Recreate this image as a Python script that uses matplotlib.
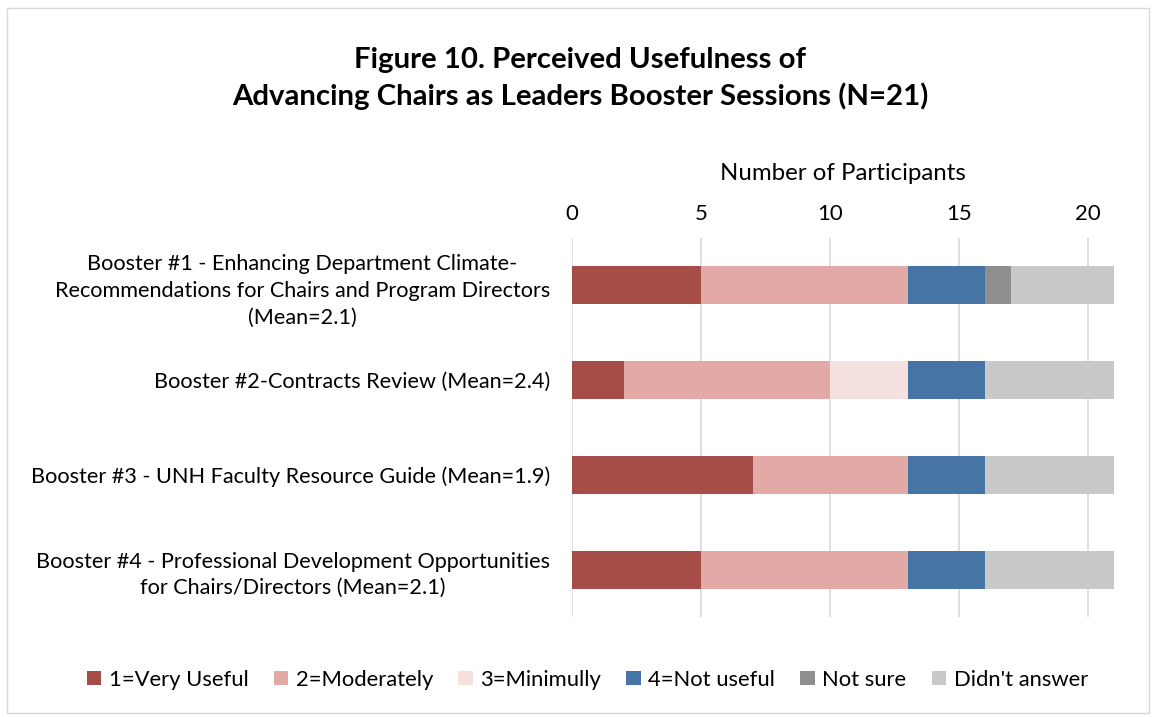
#!/usr/bin/env python3
"""Stacked horizontal bar chart: perceived usefulness of booster sessions."""

import matplotlib
matplotlib.use("Agg")
import matplotlib.pyplot as plt
from matplotlib.patches import Rectangle
import numpy as np

plt.rcParams['font.family'] = ['Lato', 'DejaVu Sans']

sessions = [
    "Booster #1 - Enhancing Department Climate-\nRecommendations for Chairs and Program Directors\n(Mean=2.1)",
    "Booster #2-Contracts Review (Mean=2.4)",
    "Booster #3 - UNH Faculty Resource Guide (Mean=1.9)",
    "Booster #4 - Professional Development Opportunities\nfor Chairs/Directors (Mean=2.1)",
]
categories = ["1=Very Useful", "2=Moderately", "3=Minimully", "4=Not useful",
              "Not sure", "Didn't answer"]
very_useful = [5, 2, 7, 5]
moderately = [8, 8, 6, 8]
minimally = [0, 3, 0, 0]
not_useful = [3, 3, 3, 3]
not_sure = [1, 0, 0, 0]
no_answer = [4, 5, 5, 5]
colors = ["#A64D47", "#E2A9A7", "#F4E1E0", "#4674A4", "#8F8F8F", "#C9C9C9"]
xticks = [0, 5, 10, 15, 20]

series = [very_useful, moderately, minimally, not_useful, not_sure, no_answer]

fig = plt.figure(figsize=(11.54, 7.17), dpi=100)
ax = fig.add_axes([572 / 1154, 1 - 617 / 717, 542 / 1154, 379 / 717])

y = np.arange(len(sessions))
left = np.zeros(len(sessions))
for vals, label, color in zip(series, categories, colors):
    ax.barh(y, vals, left=left, height=0.4, color=color, label=label, zorder=3)
    left += np.array(vals)

ax.set_xlim(0, 21)
ax.set_ylim(len(sessions) - 0.5, -0.5)
ax.set_xticks(xticks)
ax.xaxis.tick_top()
ax.xaxis.set_label_position('top')
ax.set_xlabel("Number of Participants", fontsize=17.3, labelpad=17)
ax.tick_params(axis='x', length=0, labelsize=16, pad=10)
ax.set_yticks(y)
ax.set_yticklabels(sessions, fontsize=15.6, multialignment='center', linespacing=1.42)
ax.tick_params(axis='y', length=0, pad=16)
ax.grid(axis='x', color='#D9D9D9', linewidth=1.2, zorder=0)
for s in ax.spines.values():
    s.set_visible(False)

fig.text(0.503, 0.8905, "Figure 10. Perceived Usefulness of\nAdvancing Chairs as Leaders Booster Sessions (N=21)",
         ha='center', va='center', fontsize=21.2, fontweight='bold', linespacing=1.41)

fig.legend(loc='center', bbox_to_anchor=(0.509, 0.052), ncol=6, frameon=False,
           fontsize=15.8, handlelength=0.65, handleheight=0.65, handletextpad=0.35,
           columnspacing=1.15)

fig.patches.append(Rectangle((7 / 1154, 4 / 717), 1142 / 1154, 705 / 717,
                             transform=fig.transFigure, fill=False,
                             edgecolor='#D9D9D9', linewidth=1))

fig.savefig("out.png", dpi=100)
